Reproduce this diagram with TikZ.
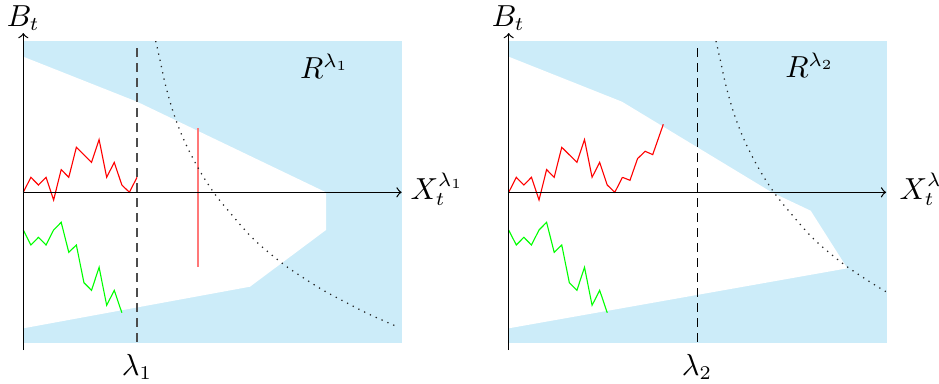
\documentclass[tikz,border=0pt]{standalone}
\definecolor{regblue}{RGB}{204,236,249}
\definecolor{walkred}{RGB}{255,0,0}
\definecolor{walkgreen}{RGB}{0,255,0}
\definecolor{markred}{RGB}{255,120,120}
\tikzset{
  region/.style={fill=regblue},
  free/.style={fill=white},
  axisline/.style={->, black, line width=0.45pt},
  levelline/.style={dash pattern=on 3.2pt off 2.2pt},
  boundcurve/.style={black!85, line width=0.45pt, dash pattern=on 0.45pt off 1.85pt},
  redpath/.style={walkred, line width=0.4pt},
  greenpath/.style={walkgreen, line width=0.4pt},
  marker/.style={markred, line width=0.85pt},
  lab/.style={inner sep=0pt, anchor=base, font=\fontsize{10.5pt}{12.5pt}\selectfont},
  redcommon/.pic={
    \draw[redpath] (0,0)--(7.58,15)--(15.16,7.3)--(22.74,15)--(30.32,-7.7)--(37.9,22.7)--(45.48,15)--(53.06,45)--(68.22,30)--(75.8,52.7)--(83.38,15)--(90.96,30)--(98.54,7.3)--(106.12,0)--(113.7,15);
  },
  greencommon/.pic={
    \draw[greenpath] (0,-37.7)--(7.58,-52.7)--(15.16,-45)--(22.74,-52.7)--(30.32,-37.7)--(37.9,-30)--(45.48,-60)--(53.06,-52.7)--(60.64,-90.4)--(68.22,-98)--(75.8,-75)--(83.38,-113)--(90.96,-98)--(98.54,-120.4);
  },
}
\newcommand\curvepath{plot[smooth, tension=0.55] coordinates {(132.4,151.3) (136.7,132.3) (142,108) (149,83) (155.5,64.6) (162.7,47.8) (171.7,30) (180.7,14.5) (191.4,-1.5) (203,-16) (229.4,-46) (258.4,-70.6) (279,-84.8) (300.7,-98.4) (323.4,-110.5) (346,-122) (375.4,-135)}}
\begin{document}
\begin{tikzpicture}[x=0.36pt, y=0.36pt]
\useasboundingbox (0,0) rectangle (939,383);
% ---------- left panel ----------
\begin{scope}[shift={(23.3,190.7)}]
  \fill[region] (0,-151) rectangle (378.4,151.3);
  \fill[free] (0,135.6) -- (113.7,90.6) -- (302.7,0) -- (302.7,-37.7) -- (226.7,-94.4) -- (0,-136) -- cycle;
  \draw[marker] (175,64) -- (175,-75);
  \begin{scope}
    \clip (0,-151) rectangle (378.4,151.3);
    \draw[boundcurve] \curvepath;
  \end{scope}
  \draw[levelline, black!70, line width=0.75pt] (113.7,144) -- (113.7,-151);
  \pic {redcommon};
  \pic {greencommon};
  \draw[axisline] (0,0) -- (378.4,0);
  \draw[axisline] (0,-157.7) -- (0,159.3);
\end{scope}
\node[lab] (b1) at (23.3,357) {$B_t$};
\node[lab] (r1) at (324.5,304.7) {$R^{\lambda_1}$};
\node[lab, anchor=base west] (x1) at (410,183.7) {$X_t^{\lambda_1}$};
\node[lab] (l1) at (137,8) {$\lambda_1$};
% ---------- right panel ----------
\begin{scope}[shift={(508.7,190.7)}]
  \fill[region] (0,-151) rectangle (378,151.3);
  \fill[free] (0,135.6) -- (113.3,90.6) -- (263,0) -- (302,-18.4) -- (338.6,-76) -- (0,-136) -- cycle;
  \begin{scope}
    \clip (0,-151) rectangle (378,151.3);
    \draw[boundcurve, shift={(74.9,0)}] \curvepath;
  \end{scope}
  \draw[levelline, black, line width=0.5pt] (188.6,144) -- (188.6,-151);
  \pic {redcommon};
  \draw[redpath] (113.7,15)--(121.28,12)--(128.86,33.7)--(136.44,41)--(144.02,37.7)--(154.6,68);
  \pic {greencommon};
  \draw[axisline] (0,0) -- (377.5,0);
  \draw[axisline] (0,-157.7) -- (0,159.3);
\end{scope}
\node[lab] (b2) at (508.3,357) {$B_t$};
\node[lab] (r2) at (809.7,305.7) {$R^{\lambda_2}$};
\node[lab, anchor=base west] (x2) at (899,183.7) {$X_t^{\lambda_2}$};
\node[lab] (l2) at (697,8) {$\lambda_2$};
\end{tikzpicture}
\end{document}
